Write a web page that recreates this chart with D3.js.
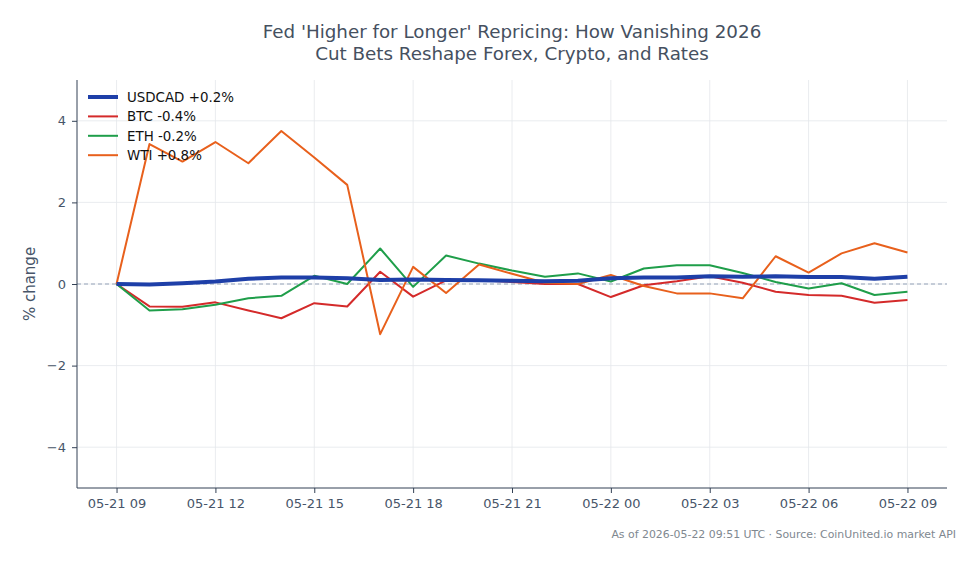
<!DOCTYPE html>
<html><head><meta charset="utf-8">
<script src="https://cdn.jsdelivr.net/npm/d3@7"></script>
<style>body{margin:0;background:#fff;} svg{display:block;font-family:"DejaVu Sans",sans-serif;}</style>
</head><body><svg id="c" width="979" height="564"></svg>
<script>
const startTime = "2026-05-21T09:00:00Z";
const hours = d3.range(25);
const usdcad = [0,-0.01,0.02,0.06,0.13,0.16,0.16,0.14,0.10,0.11,0.10,0.09,0.08,0.07,0.08,0.14,0.16,0.16,0.19,0.18,0.19,0.17,0.17,0.13,0.18];
const btc = [0,-0.55,-0.56,-0.45,-0.65,-0.84,-0.47,-0.55,0.30,-0.31,0.09,0.09,0.05,0.0,0.0,-0.32,-0.03,0.07,0.19,0.03,-0.19,-0.27,-0.29,-0.46,-0.39];
const eth = [0,-0.65,-0.62,-0.51,-0.35,-0.29,0.20,0.0,0.87,-0.07,0.70,0.50,0.33,0.18,0.26,0.06,0.38,0.46,0.46,0.27,0.05,-0.11,0.02,-0.27,-0.19];
const wti = [0,3.43,3.0,3.48,2.96,3.75,3.1,2.43,-1.23,0.42,-0.22,0.48,0.25,0.03,0.0,0.22,-0.05,-0.23,-0.23,-0.35,0.68,0.28,0.75,1.0,0.77];
const seriesNames = ["USDCAD +0.2%","BTC -0.4%","ETH -0.2%","WTI +0.8%"];
const yTicks = [-4,-2,0,2,4];
const xTickHours = [0,3,6,9,12,15,18,21,24];

const colors = ["#1e3fa8","#d42a2a","#1f9e4a","#e8601c"];
const widths = [4,2,2,2];
const series = [usdcad,btc,eth,wti];

const t0 = new Date(startTime);
const times = hours.map(h => new Date(t0.getTime()+h*3600e3));
const svg = d3.select("#c");
const L=77,R=947,T=80,B=488;
const x = d3.scaleTime().domain([new Date(t0.getTime()-1.2*3600e3), new Date(t0.getTime()+25.2*3600e3)]).range([L,R]);
const y = d3.scaleLinear().domain([-5,5]).range([B,T]);
const fmt = d3.utcFormat("%m-%d %H");

// grid
const g = svg.append("g");
g.selectAll(".vg").data(xTickHours).join("line")
  .attr("x1",h=>x(times[h])).attr("x2",h=>x(times[h])).attr("y1",T).attr("y2",B)
  .attr("stroke","#e5e7eb").attr("stroke-width",0.8);
g.selectAll(".hg").data(yTicks).join("line")
  .attr("x1",L).attr("x2",R).attr("y1",d=>y(d)).attr("y2",d=>y(d))
  .attr("stroke","#e5e7eb").attr("stroke-width",0.8);
// zero dashed
svg.append("line").attr("x1",L).attr("x2",R).attr("y1",y(0)).attr("y2",y(0))
  .attr("stroke","#94a3b8").attr("stroke-width",1).attr("stroke-dasharray","4,3");

// lines
const line = d3.line().x((d,i)=>x(times[i])).y(d=>y(d));
[1,2,3,0].forEach(k=>{
  svg.append("path").datum(series[k]).attr("d",line).attr("fill","none")
    .attr("stroke",colors[k]).attr("stroke-width",widths[k]).attr("stroke-linejoin","round").attr("stroke-linecap","butt");
});

// axes
const xa = svg.append("g").attr("transform",`translate(0,${B})`)
  .call(d3.axisBottom(x).tickValues(xTickHours.map(h=>times[h])).tickFormat(d=>fmt(d)).tickSizeOuter(0).tickSize(5).tickPadding(6));
xa.select(".domain").attr("stroke","#334155").attr("stroke-width",1).attr("d",`M${L},0H${R}`);
xa.selectAll(".tick line").attr("stroke","#334155");
xa.selectAll("text").attr("fill","#475569").style("font-size","13px").style("font-family","DejaVu Sans");
const ya = svg.append("g").attr("transform",`translate(${L},0)`)
  .call(d3.axisLeft(y).tickValues(yTicks).tickFormat(d=>d<0?"\u2212"+Math.abs(d):d).tickSizeOuter(0).tickSize(5).tickPadding(6));
ya.select(".domain").attr("stroke","#334155").attr("stroke-width",1).attr("d",`M0,${T}V${B}`);
ya.selectAll(".tick line").attr("stroke","#334155");
ya.selectAll("text").attr("fill","#475569").style("font-size","13px").style("font-family","DejaVu Sans");

// y label
svg.append("text").attr("transform",`translate(35,${(T+B)/2}) rotate(-90)`).attr("text-anchor","middle")
  .attr("fill","#475569").style("font-size","15px").text("% change");

// title
const title = svg.append("text").attr("text-anchor","middle").attr("fill","#45505f").style("font-size","18.3px");
title.append("tspan").attr("x",(L+R)/2).attr("y",38).text("Fed 'Higher for Longer' Repricing: How Vanishing 2026");
title.append("tspan").attr("x",(L+R)/2).attr("y",60).text("Cut Bets Reshape Forex, Crypto, and Rates");

// legend
const lg = svg.append("g");
seriesNames.forEach((n,i)=>{
  const yy = 97+i*19.4;
  lg.append("line").attr("x1",88).attr("x2",118).attr("y1",yy).attr("y2",yy).attr("stroke",colors[i]).attr("stroke-width",widths[i]);
  lg.append("text").attr("x",127).attr("y",yy+4.8).attr("fill","#111").style("font-size","13.4px").text(n);
});

// footer
svg.append("text").attr("x",956).attr("y",538).attr("text-anchor","end").attr("fill","#808890")
  .style("font-size","10.9px").text("As of 2026-05-22 09:51 UTC \u00b7 Source: CoinUnited.io market API");
</script></body></html>
